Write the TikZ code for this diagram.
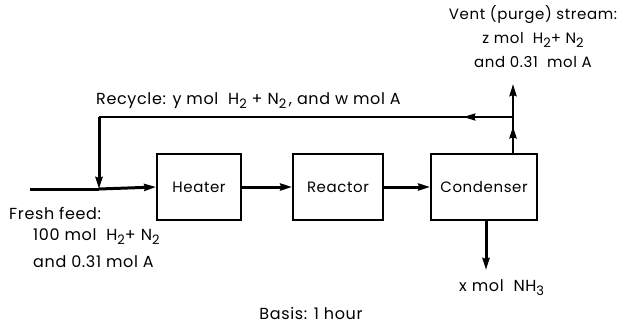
\documentclass[tikz,border=0pt]{standalone}
\usepackage{fontspec}
\setmainfont{Poppins}[LetterSpace=4]
\usetikzlibrary{arrows.meta,decorations.markings}
\tikzset{
  unit/.style={draw,line width=1.6pt,minimum height=66pt,inner sep=0pt,font=\fontsize{15}{17}\selectfont},
  tip/.tip={Stealth[length=12pt,width=7pt,inset=1pt]},
  flow/.style={line width=3pt,-tip},
  lbl/.style={font=\fontsize{16}{24}\selectfont,inner sep=0pt},
  midarrow/.style={postaction={decorate},decoration={markings,mark=at position #1 with {\arrow{tip}}}}
}
\newcommand{\sub}[1]{\raisebox{-0.45ex}{\fontsize{13}{13}\selectfont #1}}
\begin{document}
\begin{tikzpicture}[x=1pt,y=-1pt]
\useasboundingbox (0,0) rectangle (622,327);
\node[unit,minimum width=84pt] (heater) at (199,187) {Heater};
\node[unit,minimum width=90pt] (reactor) at (338,187) {Reactor};
\node[unit,minimum width=106pt] (cond) at (484,187) {Condenser};
\coordinate (feedin) at (30,189);
\coordinate (mix) at (99,189);
\coordinate (rtop) at (99,117);
\coordinate (split) at (513,117);
\coordinate (ventend) at (513,84);
\coordinate (condtop) at (513,154);
\coordinate (nh3) at (486,270);
\draw[line width=3pt] (feedin) -- (mix);
\draw[flow] (mix) -- (heater.west);
\draw[flow] (heater.east) -- (reactor.west);
\draw[flow] (reactor.east) -- (cond.west);
\draw[line width=2pt,midarrow=0.12] (split) -- (rtop);
\draw[flow] (rtop) -- (mix);
\draw[line width=2.6pt,midarrow=0.75] (condtop) -- (split);
\draw[line width=2.6pt,-tip] (split) -- (ventend);
\draw[flow] (cond.south -| nh3) -- (nh3);
\node[lbl,align=center,font=\fontsize{15}{24}\selectfont] (vent) at (533,37) {Vent (purge) stream:\\z mol\ \ H\sub{2}+ N\sub{2}\\and 0.31\ \ mol\ A};
\node[lbl,anchor=west] (rlbl) at (96,101) {Recycle: y mol\ \ H\sub{2} + N\sub{2}\,, and w\ mol\ A};
\node[lbl,anchor=west] (ff1) at (9,213) {Fresh feed:};
\node[lbl,anchor=west] (ff2) at (33,237) {100 mol\ \ H\sub{2}+ N\sub{2}};
\node[lbl,anchor=west] (ff3) at (33,262) {and 0.31 mol\ A};
\node[lbl,anchor=west] (xlbl) at (459,288) {x mol\ \ NH\sub{3}};
\node[lbl] (basis) at (311,313) {Basis: 1 hour};
\end{tikzpicture}
\end{document}
